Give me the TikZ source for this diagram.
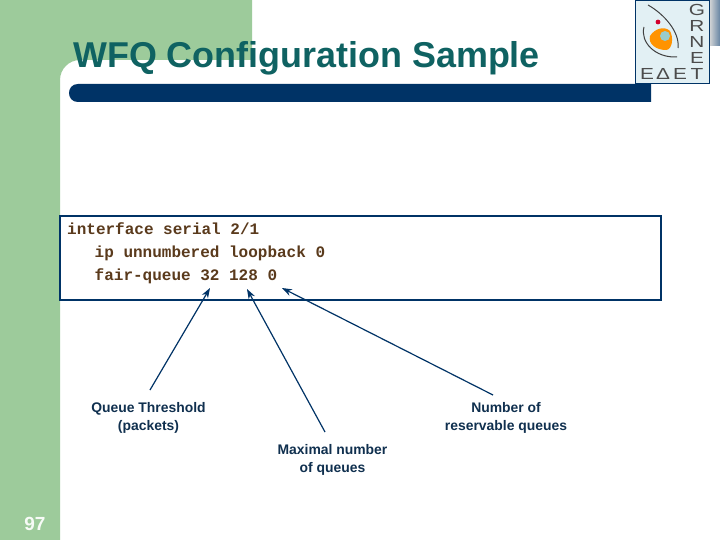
\documentclass[tikz,border=0pt]{standalone}
\usepackage{fontspec}
\setmainfont{Liberation Sans}
\setmonofont{Liberation Mono}
\usetikzlibrary{arrows.meta}
\definecolor{sidegreen}{HTML}{9DCB9B}
\definecolor{titleteal}{HTML}{0F6262}
\definecolor{bandblue}{HTML}{003366}
\definecolor{codebrown}{HTML}{5A3A1C}
\definecolor{logobg}{HTML}{E2F0F4}
\definecolor{labnavy}{HTML}{10304F}
\tikzset{
  lab/.style={font=\fontsize{13.9}{17.2}\selectfont\bfseries, text=labnavy, align=center, inner sep=0pt},
  codeline/.style={font=\fontsize{16}{16}\selectfont\ttfamily\bfseries, text=codebrown, anchor=base west, inner sep=0pt},
  callout/.style={draw=bandblue, line width=1.2pt, -{Stealth[length=10pt,width=7pt]}},
  logotxt/.style={font=\fontsize{16}{16}\selectfont, text=black!70, inner sep=0pt, xscale=1.3}
}
\begin{document}
\begin{tikzpicture}[x=1pt,y=-1pt]
\useasboundingbox (0,0) rectangle (720,540);
\fill[white] (0,0) rectangle (720,540);
\fill[sidegreen] (0,0) -- (252,0) -- (252,60) -- (80,60) .. controls (69,60) and (60,69) .. (60,80) -- (60,540) -- (0,540) -- cycle;
\fill[bandblue] (78,84) -- (651,84) -- (651,102) -- (78,102) .. controls (66,102) and (66,84) .. (78,84) -- cycle;
\node[font=\fontsize{35.9}{36}\selectfont\bfseries, text=titleteal, anchor=base west, inner sep=0pt] (title) at (73,67.5) {WFQ Configuration Sample};
% logo
\shade[left color=white!85!black, right color=bandblue!60] (709,0) rectangle (720,46);
\node[draw=bandblue, line width=1pt, fill=logobg, minimum width=74pt, minimum height=83pt, inner sep=0pt] (logo) at (672.5,42) {};
\draw[black!75, line width=1pt] (648,5) .. controls (664,14) and (680,32) .. (678,48);
\draw[black!75, line width=1pt] (644,27) .. controls (640,42) and (655,58) .. (677,57);
\fill[orange!85!yellow] (650,36) .. controls (655,28) and (665,26) .. (670,31) .. controls (674,38) and (672,50) .. (666,50) .. controls (656,50) and (648,44) .. (650,36) -- cycle;
\fill[teal!40] (665,36) circle[radius=5];
\fill[purple!70!red] (658,22) circle[radius=2.4];
\node[logotxt] (lg) at (697,10) {G};
\node[logotxt] (lr) at (697,26) {R};
\node[logotxt] (ln) at (697,42) {N};
\node[logotxt] (le) at (697,58) {E};
\node[logotxt] (lt) at (697,74) {T};
\node[logotxt] (lee) at (647,74) {Ε};
\node[logotxt] (ld) at (663,74) {Δ};
\node[logotxt] (le2) at (680,74) {Ε};
% code box
\node[draw=bandblue, line width=2pt, minimum width=601pt, minimum height=83pt, inner sep=0pt] (box) at (360.5,258) {};
\node[codeline] (c1) at (67,234) {interface serial 2/1};
\node[codeline] (c2) at (94.5,257) {ip unnumbered loopback 0};
\node[codeline] (c3) at (94.5,280) {fair-queue 32 128 0};
\coordinate (a1) at (210,288);
\coordinate (a2) at (247,289);
\coordinate (a3) at (282,288);
\coordinate (s1) at (150,390);
\coordinate (s2) at (325,432);
\coordinate (s3) at (493,395);
\draw[callout] (s1) -- (a1);
\draw[callout] (s2) -- (a2);
\draw[callout] (s3) -- (a3);
\node[lab] (l1) at (148.5,418) {Queue Threshold\\(packets)};
\node[lab] (l2) at (506,418) {Number of\\reservable queues};
\node[lab] (l3) at (332.5,460) {Maximal number\\of queues};
\node[font=\fontsize{19}{19}\selectfont\bfseries, text=white!92!sidegreen, inner sep=0pt] (num) at (35,524) {97};
\end{tikzpicture}
\end{document}
